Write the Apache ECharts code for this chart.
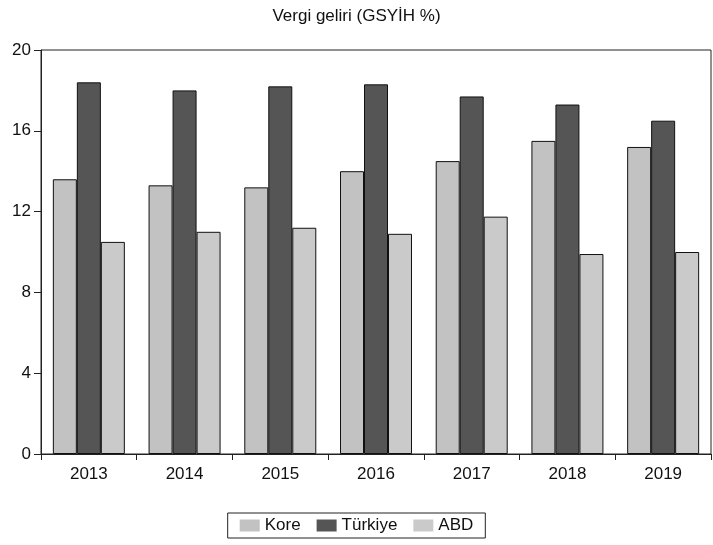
<!DOCTYPE html>
<html>
<head>
<meta charset="utf-8">
<script src="https://cdn.jsdelivr.net/npm/echarts@6/dist/echarts.min.js"></script>
<style>
html,body{margin:0;padding:0;background:#fff;}
#chart{width:713px;height:545px;}
</style>
</head>
<body>
<div id="chart"></div>
<script>
var title = 'Vergi geliri (GSYİH %)';
var categories = ['2013','2014','2015','2016','2017','2018','2019'];
var seriesNames = ['Kore','Türkiye','ABD'];
var kore = [13.6, 13.3, 13.2, 14.0, 14.5, 15.5, 15.2];
var turkiye = [18.4, 18.0, 18.2, 18.3, 17.7, 17.3, 16.5];
var abd = [10.5, 11.0, 11.2, 10.9, 11.75, 9.9, 10.0];
var yTicks = {min: 0, max: 20, interval: 4};

var colors = ['#c2c2c2', '#555555', '#cacaca'];
var font = '"Liberation Sans", Arial, sans-serif';

var chart = echarts.init(document.getElementById('chart'), null, {renderer: 'canvas'});
function bar(name, data, color) {
  return {
    name: name, type: 'bar', data: data, barWidth: 24, barGap: '0%',
    itemStyle: {color: color, borderColor: '#111', borderWidth: 1}
  };
}
chart.setOption({
  animation: false,
  backgroundColor: '#fff',
  title: {
    text: title, left: 'center', top: 3,
    textStyle: {fontFamily: font, fontSize: 17, fontWeight: 'normal', color: '#111'}
  },
  grid: {
    left: 41, right: 2, top: 50, bottom: 91, show: true,
    borderColor: '#222', borderWidth: 1, backgroundColor: 'transparent'
  },
  legend: {
    bottom: 7, left: 'center',
    data: seriesNames,
    icon: 'rect', itemWidth: 20, itemHeight: 12, itemGap: 16,
    itemStyle: {borderWidth: 0},
    borderColor: '#222', borderWidth: 1, padding: [4, 12, 4, 12],
    textStyle: {fontFamily: font, fontSize: 17, color: '#111'}
  },
  xAxis: {
    type: 'category', data: categories,
    axisLine: {lineStyle: {color: '#222', width: 1}},
    axisTick: {show: true, length: 6, inside: false, alignWithLabel: false, lineStyle: {color: '#222'}},
    axisLabel: {fontFamily: font, fontSize: 17, color: '#111', margin: 12},
    splitLine: {show: false}
  },
  yAxis: {
    type: 'value', min: yTicks.min, max: yTicks.max, interval: yTicks.interval,
    axisLine: {show: true, lineStyle: {color: '#222', width: 1}},
    axisTick: {show: true, length: 7, lineStyle: {color: '#222'}},
    axisLabel: {fontFamily: font, fontSize: 17, color: '#111', margin: 10},
    splitLine: {show: false}
  },
  series: [
    bar(seriesNames[0], kore, colors[0]),
    bar(seriesNames[1], turkiye, colors[1]),
    bar(seriesNames[2], abd, colors[2])
  ]
});
</script>
</body>
</html>
